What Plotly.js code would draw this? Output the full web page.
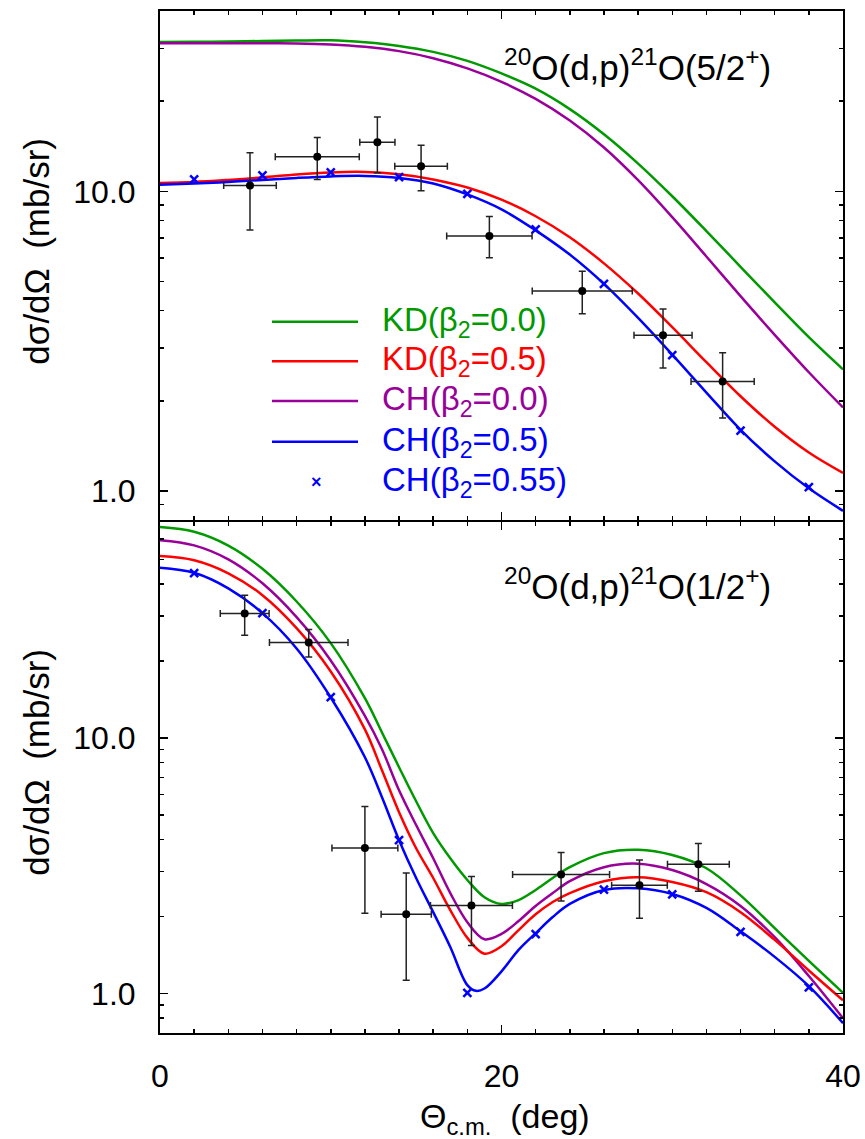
<!DOCTYPE html>
<html>
<head>
<meta charset="utf-8">
<script src="https://cdn.plot.ly/plotly-3.0.1.min.js"></script>
<style>html,body{margin:0;padding:0;background:#fff;}</style>
</head>
<body>
<div id="chart" style="width:865px;height:1139px;"></div>
<script>
// ---------- Top panel: 20O(d,p)21O(5/2+) ----------
const topTheta = [0,2,4,6,8,10,12,14,16,18,20,22,24,26,28,30,32,34,36,38,40];
const topKD00 = [31.53,31.55,31.64,31.76,31.87,31.92,31.44,30.58,29.21,27.26,24.75,22.02,18.82,15.51,12.38,9.63,7.37,5.60,4.26,3.26,2.545];
const topKD05 = [10.66,10.75,10.92,11.13,11.39,11.57,11.61,11.40,10.96,10.30,9.38,8.26,7.03,5.75,4.56,3.52,2.69,2.07,1.637,1.343,1.148];
const topCH00 = [31.22,31.22,31.22,31.20,31.18,30.94,30.37,29.38,27.83,25.73,23.21,20.35,17.24,14.01,10.90,8.20,6.06,4.47,3.32,2.49,1.90];
const topCH05 = [10.53,10.63,10.75,10.92,11.09,11.22,11.26,11.09,10.63,9.77,8.71,7.41,6.15,4.91,3.78,2.85,2.13,1.60,1.255,1.02,0.858];
const topCH055Theta = [2,6,10,14,18,22,26,30,34,38];
const topCH055 = [10.96,11.30,11.57,11.16,9.80,7.47,4.91,2.84,1.59,1.03];
const topExpTheta = [5.27,9.21,12.73,15.29,19.29,24.73,29.46,32.95];
const topExpThetaErr = [1.54,2.46,1.03,1.54,2.50,2.93,1.70,1.85];
const topExp = [10.47,13.05,14.59,12.14,7.10,4.65,3.31,2.32];
const topExpHigh = [13.45,15.12,17.72,14.26,8.24,5.41,4.05,2.89];
const topExpLow = [7.43,10.96,11.54,10.05,6.00,3.90,2.57,1.75];

// ---------- Bottom panel: 20O(d,p)21O(1/2+) ----------
const botTheta = [0,2,4,6,8,10,12,13,14,15,16,17,18,19,20,21,22,23,24,26,28,30,32,34,36,38,40];
const botKD00 = [66.9,64.1,56.6,45.9,34.2,23.5,14.3,10.5,7.68,5.65,4.24,3.38,2.78,2.38,2.24,2.32,2.54,2.83,3.12,3.54,3.65,3.48,3.09,2.42,1.80,1.34,1.005];
const botKD05 = [51.5,49.6,44.1,36.2,26.9,18.2,10.8,7.47,5.12,3.70,2.83,2.12,1.65,1.43,1.53,1.77,2.04,2.28,2.47,2.75,2.85,2.73,2.49,2.08,1.62,1.23,0.94];
const botCH00 = [59.4,56.7,50.0,40.3,29.7,20.1,12.2,9.03,6.24,4.56,3.38,2.47,1.90,1.63,1.71,1.92,2.20,2.47,2.75,3.12,3.22,3.04,2.68,2.20,1.66,1.17,0.80];
const botCH05Theta = [0,2,4,6,8,10,12,13,14,15,16,17,18,18.5,19,20,21,22,23,24,26,28,30,32,34,36,38,40];
const botCH05 = [46.4,44.3,38.5,30.8,22.4,14.4,8.40,5.86,3.98,2.83,2.08,1.52,1.078,1.024,1.045,1.22,1.48,1.72,1.99,2.24,2.54,2.58,2.45,2.16,1.75,1.39,1.068,0.765];
const botCH055Theta = [2,6,10,14,18,22,26,30,34,38];
const botCH055 = [44.2,30.8,14.43,3.98,1.005,1.706,2.55,2.44,1.742,1.056];
const botExpTheta = [4.96,8.71,12.0,14.42,18.24,23.49,28.08,31.53];
const botExpThetaErr = [1.43,2.30,1.93,1.47,2.40,2.84,1.63,1.81];
const botExp = [30.67,23.62,3.71,2.04,2.21,2.92,2.65,3.20];
const botExpHigh = [36.2,26.56,5.39,2.96,2.87,3.56,3.33,3.86];
const botExpLow = [25.2,20.75,2.06,1.127,1.54,2.30,1.97,2.51];

// ---------- Labels ----------
const seriesNames = ['KD(β<sub>2</sub>=0.0)','KD(β<sub>2</sub>=0.5)','CH(β<sub>2</sub>=0.0)','CH(β<sub>2</sub>=0.5)','CH(β<sub>2</sub>=0.55)'];
const topLabel = '<sup>20</sup>O(d,p)<sup>21</sup>O(5/2<sup>+</sup>)';
const botLabel = '<sup>20</sup>O(d,p)<sup>21</sup>O(1/2<sup>+</sup>)';
const yTitle = 'dσ/dΩ\u00a0\u00a0(mb/sr)';
const xTitle = 'Θ<sub>c.m.</sub>\u00a0\u00a0(deg)';
const xTickVals = [0,20,40];
const xTickText = ['0','20','40'];
const yTickVals = [1,10];
const yTickText = ['1.0','10.0'];

const GREEN = '#009900', RED = '#ff0000', PURPLE = '#990099', BLUE = '#0000ff';
const colors = [GREEN, RED, PURPLE, BLUE, BLUE];
const FONT = '"Liberation Sans", Arial, Helvetica, sans-serif';

function curve(x, y, color, xa, ya) {
  return {x: x, y: y, type: 'scatter', mode: 'lines', xaxis: xa, yaxis: ya,
    line: {color: color, width: 2.5, shape: 'spline', smoothing: 1}, hoverinfo: 'skip'};
}
function crosses(x, y, xa, ya) {
  return {x: x, y: y, type: 'scatter', mode: 'markers', xaxis: xa, yaxis: ya,
    marker: {symbol: 'x-thin', size: 8, color: BLUE, line: {width: 2.5, color: BLUE}}, hoverinfo: 'skip'};
}
function expData(x, xe, y, yh, yl, xa, ya) {
  return {x: x, y: y, type: 'scatter', mode: 'markers', xaxis: xa, yaxis: ya,
    marker: {symbol: 'circle', size: 8, color: '#000'},
    error_x: {type: 'data', array: xe, color: '#222', thickness: 1.5, width: 3.5},
    error_y: {type: 'data', symmetric: false,
      array: y.map((v, i) => yh[i] - v), arrayminus: y.map((v, i) => v - yl[i]),
      color: '#222', thickness: 1.5, width: 3.5}, hoverinfo: 'skip'};
}

const data = [
  curve(topTheta, topKD00, GREEN, 'x2', 'y2'),
  curve(topTheta, topCH00, PURPLE, 'x2', 'y2'),
  curve(topTheta, topKD05, RED, 'x2', 'y2'),
  curve(topTheta, topCH05, BLUE, 'x2', 'y2'),
  crosses(topCH055Theta, topCH055, 'x2', 'y2'),
  expData(topExpTheta, topExpThetaErr, topExp, topExpHigh, topExpLow, 'x2', 'y2'),
  curve(botTheta, botKD00, GREEN, 'x', 'y'),
  curve(botTheta, botCH00, PURPLE, 'x', 'y'),
  curve(botTheta, botKD05, RED, 'x', 'y'),
  curve(botCH05Theta, botCH05, BLUE, 'x', 'y'),
  crosses(botCH055Theta, botCH055, 'x', 'y'),
  expData(botExpTheta, botExpThetaErr, botExp, botExpHigh, botExpLow, 'x', 'y')
];

const axisCommon = {
  showline: true, linewidth: 2, linecolor: '#000', mirror: 'allticks',
  ticks: 'inside', ticklen: 8, tickwidth: 1.5, tickcolor: '#000',
  showgrid: false, zeroline: false, fixedrange: true,
  tickfont: {family: FONT, size: 32, color: '#000'}
};
const xAxis = Object.assign({}, axisCommon, {
  range: [0, 40], tickmode: 'array', tickvals: xTickVals, ticktext: xTickText,
  minor: {ticks: 'inside', ticklen: 4, tickwidth: 1.5, tickcolor: '#000', tickmode: 'linear', tick0: 0, dtick: 2, showgrid: false}
});
const yMinorBot = [0.8,0.9,2,3,4,5,6,7,8,9,20,30,40,50,60];
const yMinorTop = [0.9,2,3,4,5,6,7,8,9,20,30];

const legendRows = [0.696, 0.6573, 0.6184, 0.5786, 0.5394];
const shapes = [];
const annotations = [];
for (let i = 0; i < 4; i++) {
  shapes.push({type: 'line', xref: 'paper', yref: 'paper', x0: 0.164, x1: 0.2899,
    y0: legendRows[i], y1: legendRows[i], line: {color: colors[i], width: 2.5}});
}
for (let i = 0; i < 5; i++) {
  annotations.push({xref: 'paper', yref: 'paper', x: 0.3221, y: legendRows[i],
    xanchor: 'left', yanchor: 'middle', showarrow: false, text: seriesNames[i],
    font: {family: FONT, size: 33, color: colors[i]}});
}
annotations.push({xref: 'paper', yref: 'paper', x: 0.2294, y: legendRows[4], xanchor: 'center', yanchor: 'middle',
  showarrow: false, text: '<b>×</b>', font: {family: FONT, size: 18, color: BLUE}});
annotations.push({xref: 'paper', yref: 'paper', x: 0.5007, y: 0.947, xanchor: 'left', yanchor: 'middle',
  showarrow: false, text: topLabel, font: {family: FONT, size: 35, color: '#000'}});
annotations.push({xref: 'paper', yref: 'paper', x: 0.5007, y: 0.4398, xanchor: 'left', yanchor: 'middle',
  showarrow: false, text: botLabel, font: {family: FONT, size: 35, color: '#000'}});
annotations.push({xref: 'paper', yref: 'paper', x: -0.1808, y: 0.765, xanchor: 'center', yanchor: 'middle',
  textangle: -90, showarrow: false, text: yTitle, font: {family: FONT, size: 35, color: '#000'}});
annotations.push({xref: 'paper', yref: 'paper', x: -0.1808, y: 0.265, xanchor: 'center', yanchor: 'middle',
  textangle: -90, showarrow: false, text: yTitle, font: {family: FONT, size: 35, color: '#000'}});
annotations.push({xref: 'paper', yref: 'paper', x: 0.505, y: -0.0841, xanchor: 'center', yanchor: 'middle',
  showarrow: false, text: xTitle, font: {family: FONT, size: 34, color: '#000'}});

const layout = {
  width: 865, height: 1139,
  margin: {l: 160, r: 22, t: 11, b: 106, pad: 0},
  paper_bgcolor: '#fff', plot_bgcolor: '#fff',
  showlegend: false,
  font: {family: FONT, size: 32, color: '#000'},
  xaxis: Object.assign({}, xAxis, {anchor: 'y', ticklabelstandoff: 14}),
  xaxis2: Object.assign({}, xAxis, {anchor: 'y2', showticklabels: false}),
  yaxis: Object.assign({}, axisCommon, {
    domain: [0, 0.5], anchor: 'x', type: 'log', range: [Math.log10(0.7), Math.log10(70)],
    tickmode: 'array', tickvals: yTickVals, ticktext: yTickText, ticklabelstandoff: 16,
    minor: {ticks: 'inside', ticklen: 4, tickwidth: 1.5, tickcolor: '#000', tickmode: 'array', tickvals: yMinorBot, showgrid: false}
  }),
  yaxis2: Object.assign({}, axisCommon, {
    domain: [0.502, 1], anchor: 'x2', type: 'log', range: [Math.log10(0.8), Math.log10(40)],
    tickmode: 'array', tickvals: yTickVals, ticktext: yTickText, ticklabelstandoff: 16,
    minor: {ticks: 'inside', ticklen: 4, tickwidth: 1.5, tickcolor: '#000', tickmode: 'array', tickvals: yMinorTop, showgrid: false}
  }),
  shapes: shapes,
  annotations: annotations
};

Plotly.newPlot('chart', data, layout, {displayModeBar: false, staticPlot: true});
</script>
</body>
</html>
